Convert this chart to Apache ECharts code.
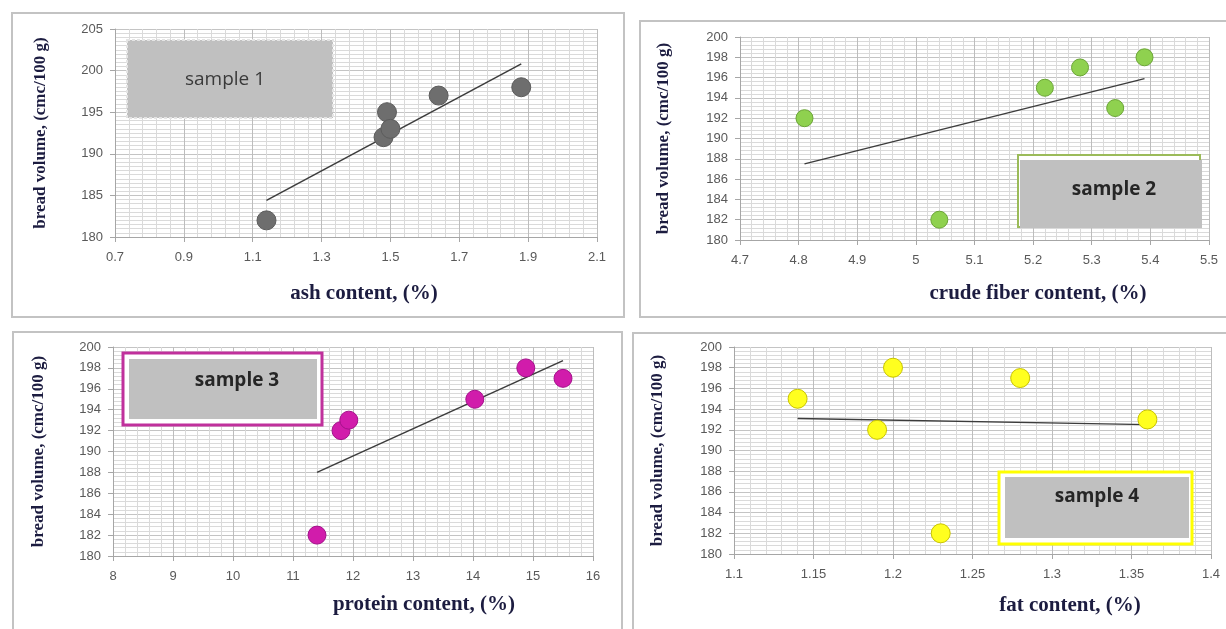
<!DOCTYPE html>
<html>
<head>
<meta charset="utf-8">
<script src="https://cdn.jsdelivr.net/npm/echarts@6/dist/echarts.min.js"></script>
<style>
html,body{margin:0;padding:0;background:#fff;}
#c{width:1226px;height:629px;}
</style>
</head>
<body>
<div id="c"></div>
<script>
// ---- data ----
const ashX = [1.14, 1.48, 1.49, 1.50, 1.64, 1.88];
const ashY = [182, 192, 195, 193, 197, 198];
const ashTrend = [[1.14, 184.4], [1.88, 200.8]];

const fiberX = [4.81, 5.04, 5.22, 5.28, 5.34, 5.39];
const fiberY = [192, 182, 195, 197, 193, 198];
const fiberTrend = [[4.81, 187.5], [5.39, 195.9]];

const proteinX = [11.4, 11.8, 11.93, 14.03, 14.88, 15.5];
const proteinY = [182, 192, 193, 195, 198, 197];
const proteinTrend = [[11.4, 188.0], [15.5, 198.7]];

const fatX = [1.14, 1.19, 1.20, 1.23, 1.28, 1.36];
const fatY = [195, 192, 198, 182, 197, 193];
const fatTrend = [[1.14, 193.1], [1.36, 192.5]];

const xTitles = ['ash content, (%)', 'crude fiber content, (%)', 'protein content, (%)', 'fat content, (%)'];
const yTitle = 'bread volume, (cmc/100 g)';
const sampleNames = ['sample 1', 'sample 2', 'sample 3', 'sample 4'];

// axis ranges [min, max, interval]
const xRanges = [[0.7, 2.1, 0.2], [4.7, 5.5, 0.1], [8, 16, 1], [1.1, 1.4, 0.05]];
const yRanges = [[180, 205, 5], [180, 200, 2], [180, 200, 2], [180, 200, 2]];
const xDecimals = [1, 1, 0, 2];

function pairs(xs, ys){ return xs.map((x,i)=>[x, ys[i]]); }
function fmtX(v, d){ return (+v.toFixed(d)).toString(); }

const chart = echarts.init(document.getElementById('c'), null, {renderer:'canvas'});

const grids = [
  {left:115, top:29, width:482, height:208},
  {left:740, top:37, width:469, height:203},
  {left:113, top:347, width:480, height:209},
  {left:734, top:347, width:477, height:207}
];

const labelStyle = {color:'#595959', fontSize:13, fontFamily:'Liberation Sans, Arial, sans-serif'};
const nameFont = 'Liberation Serif, "Times New Roman", serif';
const titleColor = '#1c1c40';

const xAxes = xRanges.map((r,i)=>({
  type:'value', gridIndex:i, min:r[0], max:r[1], interval:r[2],
  axisLine:{show:true, lineStyle:{color:'#a6a6a6', width:1}},
  axisTick:{show:true, length:5, lineStyle:{color:'#a6a6a6'}},
  minorTick:{show:false, splitNumber:5},
  axisLabel:Object.assign({margin:14, formatter:(v)=>fmtX(v, xDecimals[i])}, labelStyle),
  splitLine:{show:true, lineStyle:{color:'#bdbdbd', width:1}},
  minorSplitLine:{show:true, lineStyle:{color:'#dadada', width:1}}
}));

const yAxes = yRanges.map((r,i)=>({
  type:'value', gridIndex:i, min:r[0], max:r[1], interval:r[2],
  axisLine:{show:true, lineStyle:{color:'#a6a6a6', width:1}},
  axisTick:{show:true, length:5, lineStyle:{color:'#a6a6a6'}},
  minorTick:{show:false, splitNumber:(i===0?10:5)},
  axisLabel:Object.assign({margin:12}, labelStyle),
  splitLine:{show:true, lineStyle:{color:'#c4c4c4', width:1}},
  minorSplitLine:{show:true, lineStyle:{color:'#dadada', width:1}},
  name:yTitle, nameLocation:'middle', nameRotate:90,
  nameGap:(i===0||i===2)? 66 : 68,
  nameTextStyle:{fontFamily:nameFont, fontWeight:'bold', fontSize:17, color:titleColor}
}));

const markerStyles = [
  {color:'#6e6e6e', borderColor:'#5c5c5c', size:19},
  {color:'#8fd14f', borderColor:'#6ba536', size:17},
  {color:'#d11cab', borderColor:'#a3118a', size:18},
  {color:'#ffff1f', borderColor:'#c9c400', size:19}
];
const scatterData = [pairs(ashX, ashY), pairs(fiberX, fiberY), pairs(proteinX, proteinY), pairs(fatX, fatY)];
const trendData = [ashTrend, fiberTrend, proteinTrend, fatTrend];

const series = [];
for (let i=0;i<4;i++){
  series.push({
    type:'line', xAxisIndex:i, yAxisIndex:i, data:trendData[i], symbol:'none',
    lineStyle:{color:'#3c3c3c', width:1.5}, z:3, silent:true, animation:false
  });
  series.push({
    type:'scatter', xAxisIndex:i, yAxisIndex:i, data:scatterData[i],
    symbolSize:markerStyles[i].size,
    itemStyle:{color:markerStyles[i].color, borderColor:markerStyles[i].borderColor, borderWidth:1, opacity:1},
    z:4, animation:false
  });
}

const xTitlePos = [[364, 294], [1038, 294], [424, 605], [1070, 606]];
const sampleFont = '"Open Sans", "Liberation Sans", sans-serif';

const graphic = [
  // panel borders
  {type:'rect', shape:{x:12, y:13, width:612, height:304}, style:{fill:'none', stroke:'#c3c3c3', lineWidth:2}, z:-10},
  {type:'rect', shape:{x:640, y:21, width:620, height:296}, style:{fill:'none', stroke:'#c3c3c3', lineWidth:2}, z:-10},
  {type:'rect', shape:{x:13, y:332, width:609, height:320}, style:{fill:'none', stroke:'#c3c3c3', lineWidth:2}, z:-10},
  {type:'rect', shape:{x:633, y:333, width:620, height:320}, style:{fill:'none', stroke:'#c3c3c3', lineWidth:2}, z:-10},

  // sample 1 box
  {type:'rect', shape:{x:127, y:40, width:206, height:78}, style:{fill:'#c0c0c0', stroke:'#e4e4e4', lineWidth:2, lineDash:[3,2]}, z:10},
  {type:'text', x:225, y:80, style:{text:sampleNames[0], fill:'#3a3a3a', font:'19px ' + sampleFont, textAlign:'center', textVerticalAlign:'middle'}, z:11},

  // sample 2 box
  {type:'rect', shape:{x:1018, y:155, width:182, height:72}, style:{fill:'#ffffff', stroke:'#9bbb59', lineWidth:2}, z:10},
  {type:'rect', shape:{x:1020, y:160, width:182, height:68}, style:{fill:'#c0c0c0'}, z:10},
  {type:'text', x:1114, y:190, style:{text:sampleNames[1], fill:'#262626', font:'bold 19px ' + sampleFont, textAlign:'center', textVerticalAlign:'middle'}, z:11},

  // sample 3 box
  {type:'rect', shape:{x:123, y:353, width:199, height:72}, style:{fill:'#ffffff', stroke:'#c0309c', lineWidth:3}, z:10},
  {type:'rect', shape:{x:129, y:359, width:188, height:60}, style:{fill:'#c0c0c0'}, z:10},
  {type:'text', x:237, y:381, style:{text:sampleNames[2], fill:'#262626', font:'bold 19px ' + sampleFont, textAlign:'center', textVerticalAlign:'middle'}, z:11},

  // sample 4 box
  {type:'rect', shape:{x:999, y:472, width:193, height:72}, style:{fill:'#ffffff', stroke:'#ffff00', lineWidth:3}, z:10},
  {type:'rect', shape:{x:1005, y:477, width:184, height:61}, style:{fill:'#c0c0c0'}, z:10},
  {type:'text', x:1097, y:497, style:{text:sampleNames[3], fill:'#262626', font:'bold 19px ' + sampleFont, textAlign:'center', textVerticalAlign:'middle'}, z:11}
];

xTitles.forEach((t,i)=>{
  graphic.push({type:'text', x:xTitlePos[i][0], y:xTitlePos[i][1],
    style:{text:t, fill:titleColor, font:'bold 21px ' + nameFont, textAlign:'center', textVerticalAlign:'middle'}, z:11});
});

chart.setOption({
  animation:false,
  backgroundColor:'#ffffff',
  grid:grids.map(g=>Object.assign({containLabel:false}, g)),
  xAxis:xAxes,
  yAxis:yAxes,
  series:series,
  graphic:graphic
});
</script>
</body>
</html>
